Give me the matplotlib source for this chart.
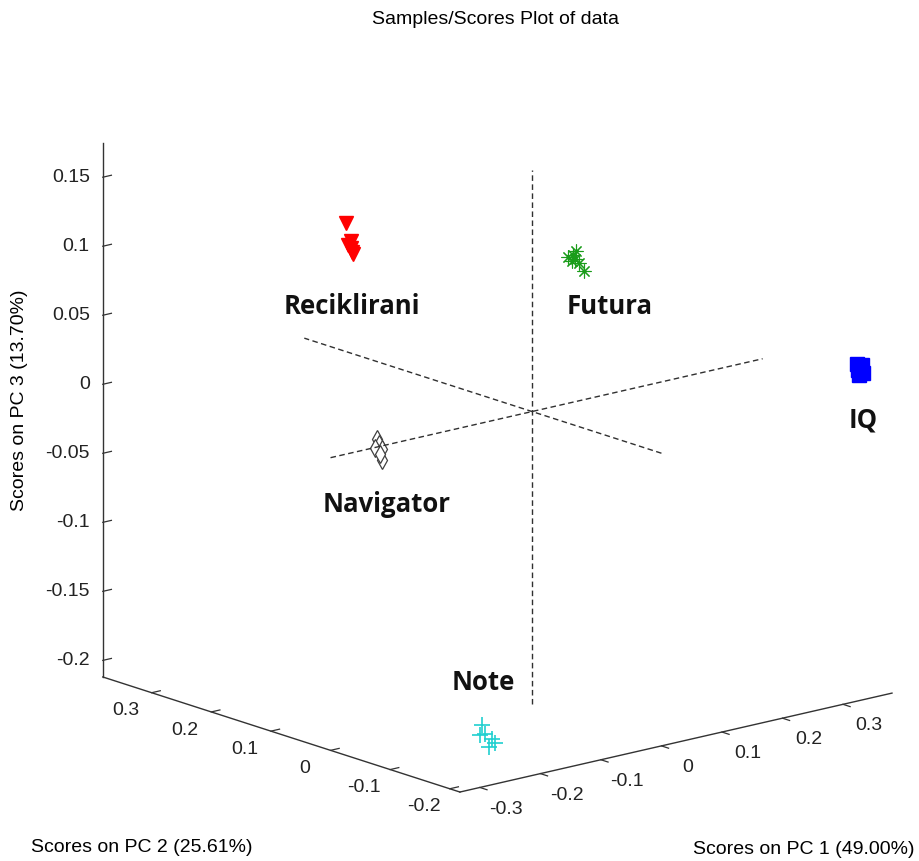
import numpy as np
import matplotlib
matplotlib.use('Agg')
from matplotlib import pyplot as plt
from mpl_toolkits.mplot3d import proj3d

# Scores on PC1 / PC2 / PC3 for each paper group
recik_pc1 = [-0.091, -0.085, -0.085, -0.081, -0.078, -0.083]
recik_pc2 = [0.220, 0.218, 0.222, 0.219, 0.221, 0.220]
recik_pc3 = [0.115, 0.102, 0.098, 0.093, 0.091, 0.096]

futura_pc1 = [0.030, 0.047, 0.025, 0.033, 0.017, 0.037, 0.027]
futura_pc2 = [-0.042, -0.040, -0.044, -0.041, -0.043, -0.042, -0.040]
futura_pc3 = [0.113, 0.103, 0.117, 0.119, 0.116, 0.110, 0.112]

iq_pc1 = [0.335, 0.342, 0.338, 0.345, 0.337, 0.343]
iq_pc2 = [-0.205, -0.205, -0.205, -0.205, -0.205, -0.205]
iq_pc3 = [0.029, 0.025, 0.021, 0.022, 0.025, 0.028]

navig_pc1 = [0.069, 0.072, 0.077, 0.077, 0.066, 0.074]
navig_pc2 = [0.330, 0.330, 0.330, 0.330, 0.330, 0.330]
navig_pc3 = [-0.073, -0.077, -0.081, -0.089, -0.079, -0.084]

note_pc1 = [-0.272, -0.267, -0.255, -0.250, -0.260, -0.275]
note_pc2 = [-0.192, -0.192, -0.192, -0.192, -0.192, -0.192]
note_pc3 = [-0.173, -0.180, -0.185, -0.188, -0.190, -0.180]

pc1_ticks = [-0.3, -0.2, -0.1, 0, 0.1, 0.2, 0.3]
pc2_ticks = [-0.2, -0.1, 0, 0.1, 0.2, 0.3]
pc3_ticks = [-0.2, -0.15, -0.1, -0.05, 0, 0.05, 0.1, 0.15]

xlim = (-0.333, 0.381)
ylim = (-0.217, 0.382)
zlim = (-0.212, 0.175)

plt.rcParams['font.family'] = 'Liberation Sans'
W, H = 920, 861

fig = plt.figure(figsize=(W / 100, H / 100), dpi=100)
ax = fig.add_axes([0.0168, -0.0451, 1.0201, 1.0900], projection='3d')
ax.set_proj_type('ortho')
ax.view_init(elev=15.76, azim=-130.13)
ax.set_box_aspect((565, 554, 555))

ax.plot(recik_pc1, recik_pc2, recik_pc3, 'v', color='red', ms=10, mec='red')
ax.plot(futura_pc1, futura_pc2, futura_pc3, marker=(8, 2, 0), ls='none',
        color='#1a9c1a', ms=10, mew=0.8)
ax.plot(iq_pc1, iq_pc2, iq_pc3, 's', color='blue', ms=10)
ax.plot(navig_pc1, navig_pc2, navig_pc3, 'd', color='#404040', ms=9, mfc='white', mew=0.9)
ax.plot(note_pc1, note_pc2, note_pc3, '+', color='#20d0d0', ms=11, mew=1.2)

# dashed lines through the origin along each PC
dash = dict(color='#303030', lw=1.0, ls=(0, (4, 2.5)))
ax.plot(xlim, [0, 0], [0, 0], **dash)
ax.plot([0, 0], ylim, [0, 0], **dash)
ax.plot([0, 0], [0, 0], zlim, **dash)

ax.set_xlim(xlim)
ax.set_ylim(ylim)
ax.set_zlim(zlim)
ax.set_xticks(pc1_ticks)
ax.set_yticks(pc2_ticks)
ax.set_zticks(pc3_ticks)
ax.tick_params(colors='#333333')

ax.grid(False)
for axis in (ax.xaxis, ax.yaxis, ax.zaxis):
    axis.set_tick_params(label1On=False)
    axis.set_pane_color((1, 1, 1, 0))
    axis.pane.set_edgecolor((1, 1, 1, 0))
    axis.line.set_color('#333333')
    axis.line.set_linewidth(1.0)
    axis._axinfo['tick']['linewidth'] = {True: 0.9, False: 0.5}
    axis._axinfo['tick']['inward_factor'] = 0.0
    axis._axinfo['tick']['outward_factor'] = 0.25
# PC1 ticks hang on the outer side of the axis
ax.xaxis._axinfo['tick']['inward_factor'] = 0.25
ax.xaxis._axinfo['tick']['outward_factor'] = 0.0

# tick labels, projected once onto the 2D plane of the axes
M = ax.get_proj()


def tick_label(x, y, z, s, ha):
    px, py, _ = proj3d.proj_transform(x, y, z, M)
    ax.text2D(px, py, s, transform=ax.transData, ha=ha, va='center',
              fontsize=14, color='#222222')


for t in pc1_ticks:
    tick_label(t, ylim[0] - 0.044, zlim[0] - 0.0095, '%g' % t, 'center')
for t in pc2_ticks:
    tick_label(xlim[0] - 0.043, t, zlim[0] - 0.0088, '%g' % t, 'center')
for t in pc3_ticks:
    tick_label(xlim[0] - 0.0125, ylim[1] + 0.0091, t, '%g' % t, 'right')

fig.text(496 / W, 1 - 19 / H, 'Samples/Scores Plot of data', ha='center', va='center', fontsize=14)
fig.text(142 / W, 1 - 847 / H, 'Scores on PC 2 (25.61%)', ha='center', va='center', fontsize=14)
fig.text(804 / W, 1 - 850 / H, 'Scores on PC 1 (49.00%)', ha='center', va='center', fontsize=14)
fig.text(20 / W, 1 - 400 / H, 'Scores on PC 3 (13.70%)', ha='center', va='center', fontsize=14, rotation=90)

lab = dict(ha='center', va='center', fontsize=18.5, fontweight='bold', family='Open Sans', color='#111111')
fig.text(352 / W, 1 - 307 / H, 'Reciklirani', **lab)
fig.text(610 / W, 1 - 307 / H, 'Futura', **lab)
fig.text(863 / W, 1 - 420 / H, 'IQ', **lab)
fig.text(387 / W, 1 - 505 / H, 'Navigator', **lab)
fig.text(483 / W, 1 - 683 / H, 'Note', **lab)

fig.savefig('out.png', dpi=100)
